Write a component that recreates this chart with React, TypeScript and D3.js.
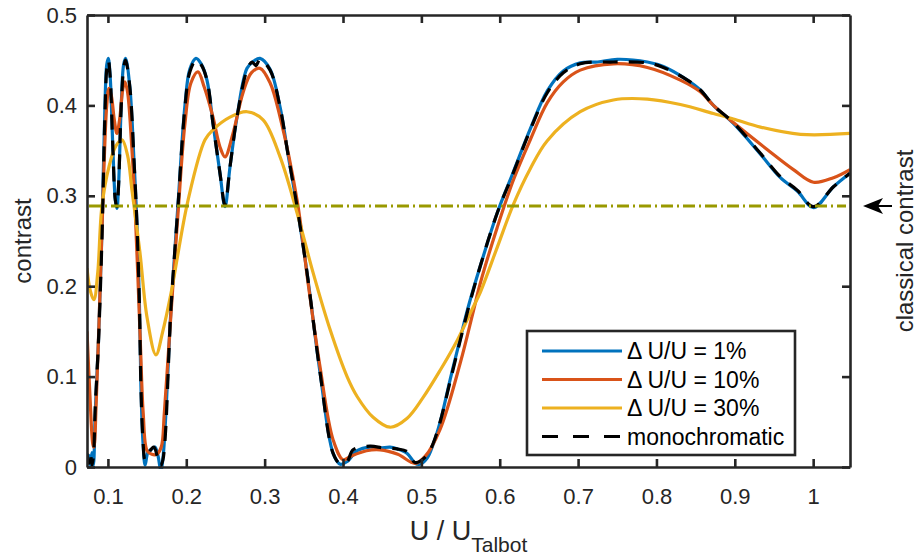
import React, { useEffect, useRef } from 'react';
import { select, scaleLinear, line, curveCatmullRom, axisBottom, axisLeft, axisTop, axisRight } from 'd3';

// U / U_Talbot vs contrast
const dU1 = [
  [0.0733, 0.005], [0.0757, 0.013], [0.0776, 0.002], [0.0796, 0.016], [0.0815, 0.002],
  [0.0838, 0.06], [0.088, 0.14], [0.0923, 0.26], [0.0962, 0.4], [0.0985, 0.445],
  [0.1005, 0.452], [0.103, 0.43], [0.106, 0.36], [0.1095, 0.295], [0.1115, 0.286],
  [0.1135, 0.31], [0.117, 0.4], [0.12, 0.445], [0.1225, 0.452], [0.128, 0.42],
  [0.1332, 0.34], [0.137, 0.27], [0.1402, 0.18], [0.1421, 0.09], [0.1447, 0.028],
  [0.1475, 0.002], [0.151, 0.016], [0.156, 0.02], [0.16, 0.022], [0.164, 0.012],
  [0.1675, -0.004], [0.1705, 0.012], [0.1805, 0.175], [0.1894, 0.29], [0.1983, 0.4],
  [0.2045, 0.44], [0.2124, 0.452], [0.219, 0.446], [0.2264, 0.428], [0.2341, 0.38],
  [0.243, 0.325], [0.2494, 0.288], [0.2558, 0.332], [0.2647, 0.387], [0.2775, 0.441],
  [0.286, 0.449], [0.2941, 0.452], [0.3069, 0.44], [0.3197, 0.398], [0.33, 0.345],
  [0.3414, 0.288], [0.3541, 0.215], [0.3708, 0.104], [0.3874, 0.015], [0.3965, 0.003],
  [0.4052, 0.006], [0.418, 0.018], [0.4346, 0.022], [0.4474, 0.021], [0.46, 0.022],
  [0.4691, 0.02], [0.4819, 0.015], [0.4921, 0.004], [0.498, 0.003], [0.5074, 0.01],
  [0.515, 0.025], [0.524, 0.05], [0.5368, 0.097], [0.5496, 0.142], [0.5598, 0.177],
  [0.5751, 0.222], [0.5968, 0.281], [0.6172, 0.326], [0.639, 0.374], [0.6607, 0.416],
  [0.6811, 0.438], [0.7028, 0.447], [0.725, 0.448], [0.75, 0.451], [0.7884, 0.448],
  [0.8088, 0.443], [0.8395, 0.428], [0.856, 0.417], [0.8727, 0.4], [0.8982, 0.38],
  [0.9327, 0.346], [0.9582, 0.32], [0.98, 0.305], [1.0004, 0.287], [1.0259, 0.31],
  [1.047, 0.325],
];

const dU10 = [
  [0.0733, 0.15], [0.077, 0.08], [0.0808, 0.025], [0.0821, 0.022], [0.085, 0.07],
  [0.0898, 0.19], [0.0949, 0.33], [0.0985, 0.4], [0.1013, 0.419], [0.1045, 0.41],
  [0.108, 0.385], [0.1115, 0.369], [0.115, 0.385], [0.119, 0.418], [0.1217, 0.426],
  [0.125, 0.415], [0.13, 0.36], [0.1345, 0.29], [0.1413, 0.14], [0.145, 0.06],
  [0.15, 0.018], [0.156, 0.014], [0.162, 0.014], [0.168, 0.022], [0.172, 0.06],
  [0.1805, 0.17], [0.1894, 0.28], [0.1983, 0.38], [0.206, 0.425], [0.2149, 0.437],
  [0.223, 0.42], [0.2341, 0.387], [0.243, 0.354], [0.2494, 0.343], [0.2596, 0.369],
  [0.2724, 0.414], [0.283, 0.436], [0.2941, 0.441], [0.3069, 0.425], [0.3197, 0.387],
  [0.3414, 0.295], [0.356, 0.2], [0.3708, 0.11], [0.3874, 0.03], [0.4001, 0.008],
  [0.41, 0.012], [0.43, 0.018], [0.4474, 0.019], [0.47, 0.014], [0.4921, 0.004],
  [0.505, 0.012], [0.524, 0.042], [0.5496, 0.115], [0.5662, 0.172], [0.5751, 0.203],
  [0.5968, 0.265], [0.6172, 0.317], [0.639, 0.362], [0.6607, 0.403], [0.6811, 0.426],
  [0.7028, 0.439], [0.745, 0.446], [0.7884, 0.442], [0.8305, 0.428], [0.856, 0.415],
  [0.8727, 0.4], [0.8982, 0.381], [0.9416, 0.351], [0.9748, 0.329], [1.0004, 0.315],
  [1.0259, 0.32], [1.047, 0.329],
];

const dU30 = [
  [0.0733, 0.22], [0.0775, 0.195], [0.0821, 0.185], [0.087, 0.215], [0.0923, 0.288],
  [0.1013, 0.332], [0.11, 0.355], [0.1179, 0.362], [0.125, 0.345], [0.1307, 0.306],
  [0.1409, 0.237], [0.15, 0.165], [0.1613, 0.124], [0.17, 0.15], [0.1805, 0.192],
  [0.2022, 0.295], [0.2239, 0.362], [0.2341, 0.373], [0.2558, 0.387], [0.2775, 0.393],
  [0.298, 0.384], [0.3197, 0.343], [0.3414, 0.281], [0.3618, 0.215], [0.3835, 0.152],
  [0.4052, 0.1], [0.418, 0.078], [0.4384, 0.055], [0.4602, 0.044], [0.4819, 0.054],
  [0.5023, 0.077], [0.524, 0.107], [0.5457, 0.14], [0.5662, 0.177], [0.5751, 0.193],
  [0.5968, 0.243], [0.6172, 0.29], [0.639, 0.33], [0.6607, 0.361], [0.7028, 0.393],
  [0.745, 0.406], [0.7884, 0.407], [0.8305, 0.401], [0.8727, 0.391], [0.8982, 0.385],
  [0.9327, 0.376], [0.9838, 0.368], [1.047, 0.369],
];

const mono = [
  [0.0733, 0.015], [0.0757, 0.004], [0.0776, 0.016], [0.0796, 0.002], [0.0815, 0.012],
  [0.0838, 0.066], [0.088, 0.14], [0.0923, 0.25], [0.0962, 0.39], [0.0985, 0.44],
  [0.1005, 0.45], [0.103, 0.43], [0.106, 0.36], [0.1095, 0.295], [0.1115, 0.288],
  [0.1135, 0.31], [0.117, 0.4], [0.12, 0.44], [0.1225, 0.45], [0.128, 0.42],
  [0.1332, 0.34], [0.137, 0.27], [0.1402, 0.18], [0.1421, 0.09], [0.1447, 0.03],
  [0.1473, 0.008], [0.151, 0.014], [0.1585, 0.022], [0.163, 0.012], [0.167, 0.001],
  [0.1702, 0.008], [0.1805, 0.177], [0.1894, 0.288], [0.1983, 0.398], [0.2045, 0.437],
  [0.2124, 0.45], [0.219, 0.445], [0.2264, 0.428], [0.2341, 0.38], [0.243, 0.325],
  [0.2494, 0.29], [0.2558, 0.332], [0.2647, 0.387], [0.2775, 0.439], [0.284, 0.448],
  [0.289, 0.444], [0.2941, 0.451], [0.3069, 0.439], [0.3197, 0.398], [0.33, 0.345],
  [0.3414, 0.288], [0.3541, 0.215], [0.3708, 0.104], [0.3874, 0.015], [0.396, 0.004],
  [0.4052, 0.006], [0.4129, 0.019], [0.4346, 0.023], [0.4512, 0.021], [0.4691, 0.02],
  [0.4819, 0.017], [0.4921, 0.005], [0.5074, 0.013], [0.515, 0.026], [0.524, 0.05],
  [0.5368, 0.095], [0.5496, 0.14], [0.5598, 0.175], [0.5751, 0.222], [0.5968, 0.281],
  [0.6172, 0.325], [0.639, 0.373], [0.6607, 0.414], [0.6811, 0.436], [0.7028, 0.446],
  [0.745, 0.448], [0.7884, 0.447], [0.8088, 0.442], [0.8395, 0.428], [0.856, 0.417],
  [0.8727, 0.4], [0.8982, 0.381], [0.9327, 0.347], [0.9582, 0.321], [0.98, 0.306],
  [1.0004, 0.288], [1.0259, 0.31], [1.047, 0.325],
];

const classicalContrast = 0.2887;

const xTicks = [0.1, 0.2, 0.3, 0.4, 0.5, 0.6, 0.7, 0.8, 0.9, 1];
const xTickLabels = ['0.1', '0.2', '0.3', '0.4', '0.5', '0.6', '0.7', '0.8', '0.9', '1'];
const yTicks = [0, 0.1, 0.2, 0.3, 0.4, 0.5];
const yTickLabels = ['0', '0.1', '0.2', '0.3', '0.4', '0.5'];

const legendLabels = ['\u0394 U/U = 1%', '\u0394 U/U = 10%', '\u0394 U/U = 30%', 'monochromatic'];

const FONT = '"Liberation Sans", Arial, Helvetica, sans-serif';
const AX = '#262626';

const App = () => {
  const svgRef = useRef(null);

  useEffect(() => {
    const svg = select(svgRef.current);
    svg.selectAll('*').remove();

    const width = 920;
    const height = 558;
    const margin = { top: 15, right: 70, bottom: 91, left: 87 };
    const x0 = margin.left;
    const x1 = width - margin.right;
    const y0 = margin.top;
    const y1 = height - margin.bottom;

    const xScale = scaleLinear().domain([0.0733, 1.047]).range([x0, x1]);
    const yScale = scaleLinear().domain([0, 0.5]).range([y1, y0]);

    svg.append('defs').append('clipPath').attr('id', 'plotclip')
      .append('rect').attr('x', x0).attr('y', y0 - 2).attr('width', x1 - x0).attr('height', y1 - y0 + 4);

    const mkLine = line()
      .x((d) => xScale(d[0]))
      .y((d) => yScale(d[1]))
      .curve(curveCatmullRom.alpha(0.5));

    const plot = svg.append('g').attr('clip-path', 'url(#plotclip)');

    const series = [
      { data: dU1, color: '#0072BD', dash: null },
      { data: dU10, color: '#D95319', dash: null },
      { data: dU30, color: '#EDB120', dash: null },
      { data: mono, color: '#000000', dash: '15 11' },
    ];

    plot.selectAll('path.series')
      .data(series)
      .join('path')
      .attr('class', 'series')
      .attr('fill', 'none')
      .attr('stroke', (d) => d.color)
      .attr('stroke-width', 3.2)
      .attr('stroke-dasharray', (d) => d.dash)
      .attr('d', (d) => mkLine(d.data));

    // classical contrast, dash-dot
    plot.append('line')
      .attr('x1', xScale(0.0733) + 2).attr('x2', xScale(1.047) - 4)
      .attr('y1', yScale(classicalContrast)).attr('y2', yScale(classicalContrast))
      .attr('stroke', '#999900')
      .attr('stroke-width', 3)
      .attr('stroke-dasharray', '12 4 2 4');

    // axes (box with inward ticks)
    const styleAxis = (g) => {
      g.select('.domain').attr('stroke', AX).attr('stroke-width', 2.6);
      g.selectAll('.tick line').attr('stroke', AX).attr('stroke-width', 2.6);
      g.selectAll('text').attr('fill', AX).attr('font-family', FONT).attr('font-size', 22);
    };

    svg.append('g')
      .attr('transform', `translate(0,${y1})`)
      .call(axisBottom(xScale).tickValues(xTicks).tickSize(-8).tickSizeOuter(0).tickPadding(21)
        .tickFormat((d, i) => xTickLabels[i]))
      .call(styleAxis);

    svg.append('g')
      .attr('transform', `translate(0,${y0})`)
      .call(axisTop(xScale).tickValues(xTicks).tickSize(-8).tickSizeOuter(0).tickFormat(() => ''))
      .call(styleAxis);

    svg.append('g')
      .attr('transform', `translate(${x0},0)`)
      .call(axisLeft(yScale).tickValues(yTicks).tickSize(-8).tickSizeOuter(0).tickPadding(10)
        .tickFormat((d, i) => yTickLabels[i]))
      .call(styleAxis);

    svg.append('g')
      .attr('transform', `translate(${x1},0)`)
      .call(axisRight(yScale).tickValues(yTicks).tickSize(-8).tickSizeOuter(0).tickFormat(() => ''))
      .call(styleAxis);

    // axis labels
    svg.append('text')
      .attr('transform', `translate(31,${(y0 + y1) / 2}) rotate(-90)`)
      .attr('text-anchor', 'middle')
      .attr('font-family', FONT).attr('font-size', 24).attr('fill', AX)
      .text('contrast');

    const xl = svg.append('text')
      .attr('x', (x0 + x1) / 2).attr('y', 540)
      .attr('text-anchor', 'middle')
      .attr('font-family', FONT).attr('font-size', 27).attr('fill', AX);
    xl.append('tspan').text('U / U');
    xl.append('tspan').attr('font-size', 21).attr('dy', 12).text('Talbot');

    // classical contrast annotation
    svg.append('path')
      .attr('d', `M${x1 + 13},${yScale(classicalContrast)} l20,-8 l-5,8 l5,8 z`)
      .attr('fill', '#000');
    svg.append('line')
      .attr('x1', x1 + 27).attr('x2', x1 + 42)
      .attr('y1', yScale(classicalContrast)).attr('y2', yScale(classicalContrast))
      .attr('stroke', '#000').attr('stroke-width', 2);
    svg.append('text')
      .attr('transform', `translate(913,${(y0 + y1) / 2}) rotate(-90)`)
      .attr('text-anchor', 'middle')
      .attr('font-family', FONT).attr('font-size', 24).attr('fill', AX)
      .text('classical contrast');

    // legend
    const lg = svg.append('g').attr('transform', 'translate(527,331)');
    lg.append('rect')
      .attr('width', 268).attr('height', 124)
      .attr('fill', '#fff').attr('stroke', AX).attr('stroke-width', 2.6);
    const items = lg.selectAll('g.item')
      .data(series)
      .join('g')
      .attr('class', 'item')
      .attr('transform', (d, i) => `translate(0,${20 + i * 28.5})`);
    items.append('line')
      .attr('x1', 15).attr('x2', 95)
      .attr('stroke', (d) => d.color)
      .attr('stroke-width', 3.2)
      .attr('stroke-dasharray', (d) => (d.dash ? '16 15' : null));
    items.append('text')
      .attr('x', 100).attr('dy', '0.35em')
      .attr('font-family', FONT).attr('font-size', 23).attr('fill', '#000')
      .text((d, i) => legendLabels[i]);
  }, []);

  return (
    <svg ref={svgRef} width="920" height="558"
      style={{ position: 'absolute', left: 0, top: 0, background: '#fff' }}>
    </svg>
  );
};

export default App;
